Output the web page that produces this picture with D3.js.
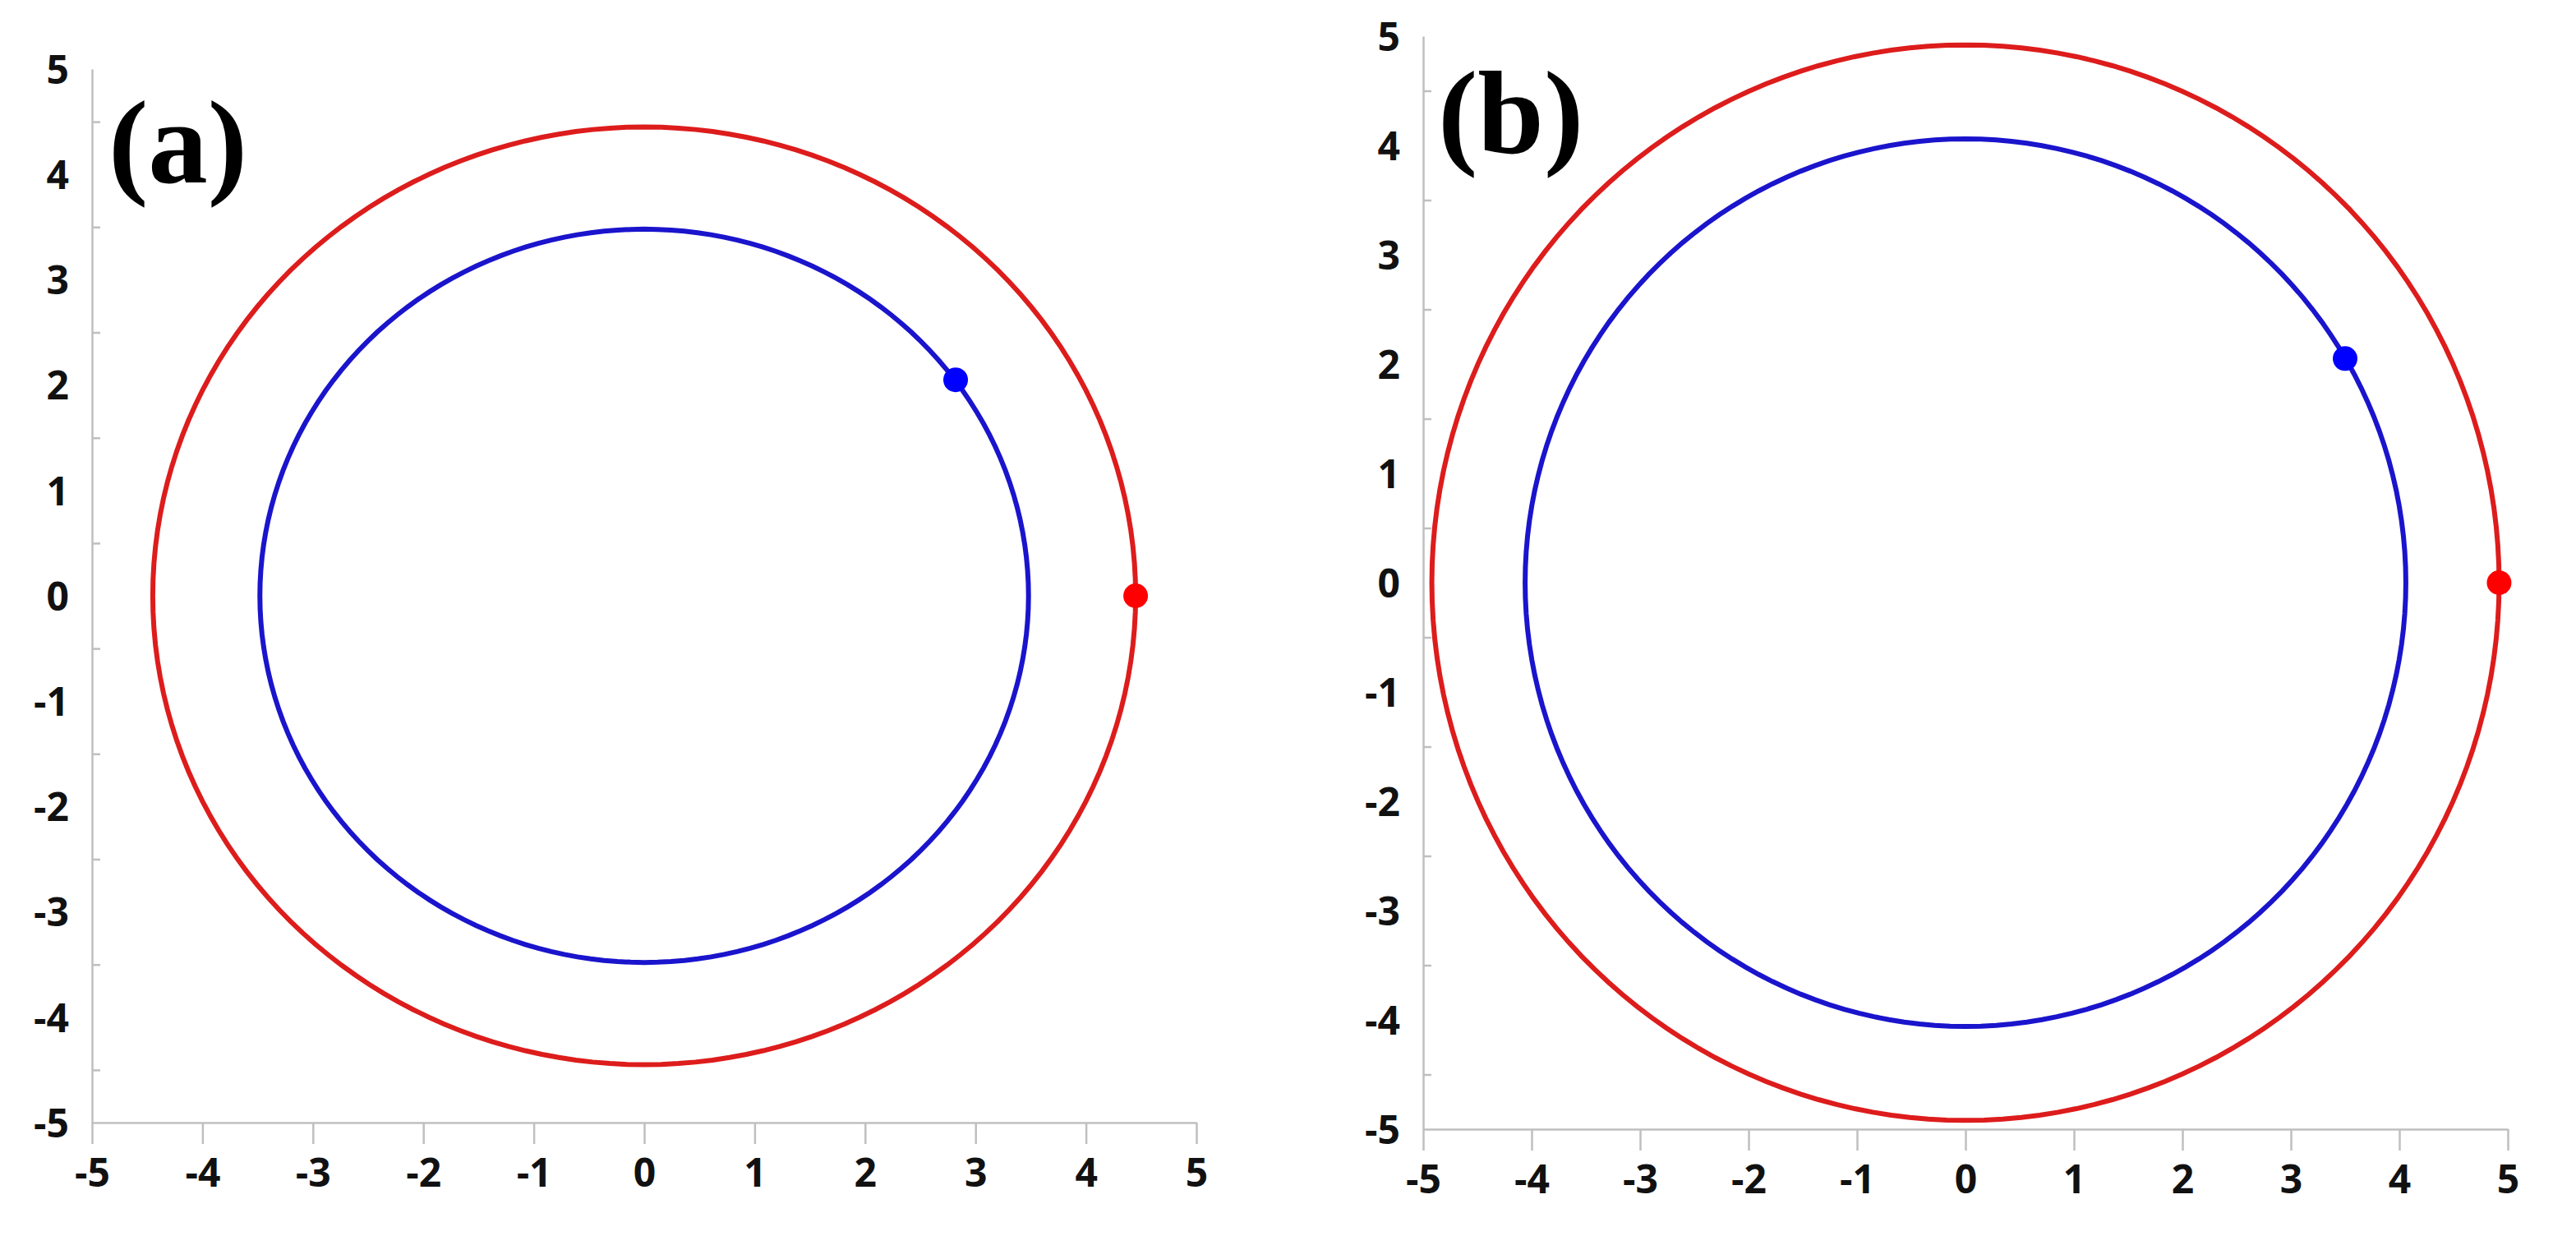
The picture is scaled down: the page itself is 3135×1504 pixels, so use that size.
<!DOCTYPE html>
<html><head><meta charset="utf-8">
<script src="https://cdn.jsdelivr.net/npm/d3@7"></script>
<style>body{margin:0;background:#fff}</style></head>
<body><svg id="c" width="3135" height="1504"></svg>
<script>
const ticks = [-5,-4,-3,-2,-1,0,1,2,3,4,5];
const panelLabels = ["(a)","(b)"];
const redRadius = [4.45, 4.92];
const blueRadius = [3.48, 4.06];
const redPoint = [[4.45,0],[4.92,0]];
const bluePoint = [[2.82,2.05],[3.5,2.05]];
const panels = [
  {x0:112,x1:1456,y0:84,y1:1366,lx:132,ly:222},
  {x0:1732,x1:3052,y0:44,y1:1374,lx:1750,ly:186}
];
const fmt = d => String(d).replace("\u2212","-");
const svg = d3.select("#c");
panels.forEach((p,i)=>{
  const x = d3.scaleLinear().domain([-5,5]).range([p.x0,p.x1]);
  const y = d3.scaleLinear().domain([-5,5]).range([p.y1,p.y0]);
  const g = svg.append("g");
  const xa = g.append("g").attr("transform",`translate(0,${p.y1})`)
    .call(d3.axisBottom(x).tickValues(ticks).tickFormat(fmt).tickSize(26).tickSizeOuter(0).tickPadding(18));
  const ya = g.append("g").attr("transform",`translate(${p.x0},0)`)
    .call(d3.axisLeft(y).tickValues(ticks).tickFormat(fmt).tickSize(0).tickSizeOuter(0).tickPadding(28));
  g.append("g").attr("transform",`translate(${p.x0},0)`)
    .call(d3.axisRight(y).tickValues(d3.range(-4.5,5,1)).tickSize(10).tickSizeOuter(0).tickFormat(""))
    .select(".domain").remove();
  g.selectAll(".domain,.tick line").attr("stroke","#bfbfbf").attr("stroke-width",2.5);
  g.selectAll(".tick text").attr("font-family","Open Sans").attr("font-weight","bold")
    .attr("font-size",48).attr("fill","#111");
  ya.selectAll(".tick text").attr("dy","0.36em");
  const line = d3.line().x(d=>x(d[0])).y(d=>y(d[1]));
  const circ = r => d3.range(0,361,2).map(a=>[r*Math.cos(a*Math.PI/180), r*Math.sin(a*Math.PI/180)]);
  g.append("path").attr("d",line(circ(redRadius[i]))).attr("fill","none").attr("stroke","#dd1c1c").attr("stroke-width",6);
  g.append("path").attr("d",line(circ(blueRadius[i]))).attr("fill","none").attr("stroke","#1a14cc").attr("stroke-width",6);
  g.append("circle").attr("cx",x(redPoint[i][0])).attr("cy",y(redPoint[i][1])).attr("r",15).attr("fill","#ff0000");
  g.append("circle").attr("cx",x(bluePoint[i][0])).attr("cy",y(bluePoint[i][1])).attr("r",15).attr("fill","#0000ff");
  g.append("text").attr("x",p.lx).attr("y",p.ly).text(panelLabels[i])
    .attr("font-family","Liberation Serif").attr("font-weight","bold").attr("font-size",145).attr("fill","#000");
});
</script></body></html>
